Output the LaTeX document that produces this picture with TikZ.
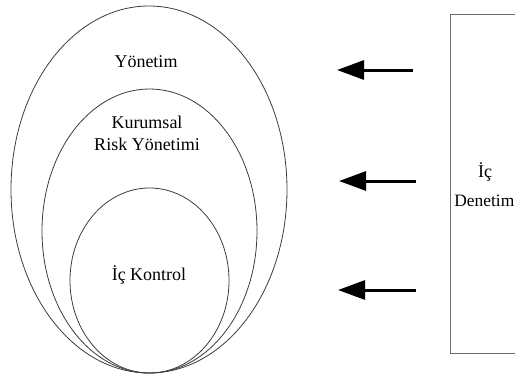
\documentclass[tikz,border=0pt]{standalone}
\usepackage{fontspec}
\setmainfont{Liberation Serif}
\usepackage{tikz}
\usetikzlibrary{arrows.meta, positioning}
\definecolor{myline}{RGB}{60,60,60}
\definecolor{mybox}{RGB}{110,110,110}
\tikzset{
  ring/.style={draw=myline, line width=0.8pt},
  lbl/.style={font=\fontsize{18}{22}\selectfont, align=center, inner sep=0pt},
  auditbox/.style={draw=mybox, line width=0.8pt},
  push/.style={-{Triangle[length=27pt, width=19pt]}, line width=3pt, color=black}
}

\begin{document}
\begin{tikzpicture}[x=1pt, y=-1pt]
  \useasboundingbox (0,0) rectangle (515,378);

  % Nested ellipses
  \draw[ring] (149,189.5) ellipse [x radius=138, y radius=183.5];
  \draw[ring] (149.5,231) ellipse [x radius=107.5, y radius=142];
  \draw[ring] (149.5,280.5) ellipse [x radius=79.5, y radius=92.5];

  % Ellipse labels
  \node[lbl, anchor=base] (yon) at (146,67) {Yönetim};
  \node[lbl, anchor=base] (krm) at (147,150) {Kurumsal\\Risk Yönetimi};
  \node[lbl, anchor=base] (ick) at (149,280) {İç Kontrol};

  % Audit box (runs past the right edge)
  \draw[auditbox] (450,14) rectangle (540,353);
  \node[lbl, anchor=base] (ic) at (485,177) {İç};
  \node[lbl, anchor=base east, font=\fontsize{17.4}{21}\selectfont] (den) at (514.5,206) {Denetim};

  % Arrows
  \coordinate (t1) at (413,70);  \coordinate (h1) at (337,70);
  \coordinate (t2) at (416,181); \coordinate (h2) at (339,181);
  \coordinate (t3) at (416,290); \coordinate (h3) at (338,290);
  \draw[push] (t1) -- (h1);
  \draw[push] (t2) -- (h2);
  \draw[push] (t3) -- (h3);
\end{tikzpicture}
\end{document}
